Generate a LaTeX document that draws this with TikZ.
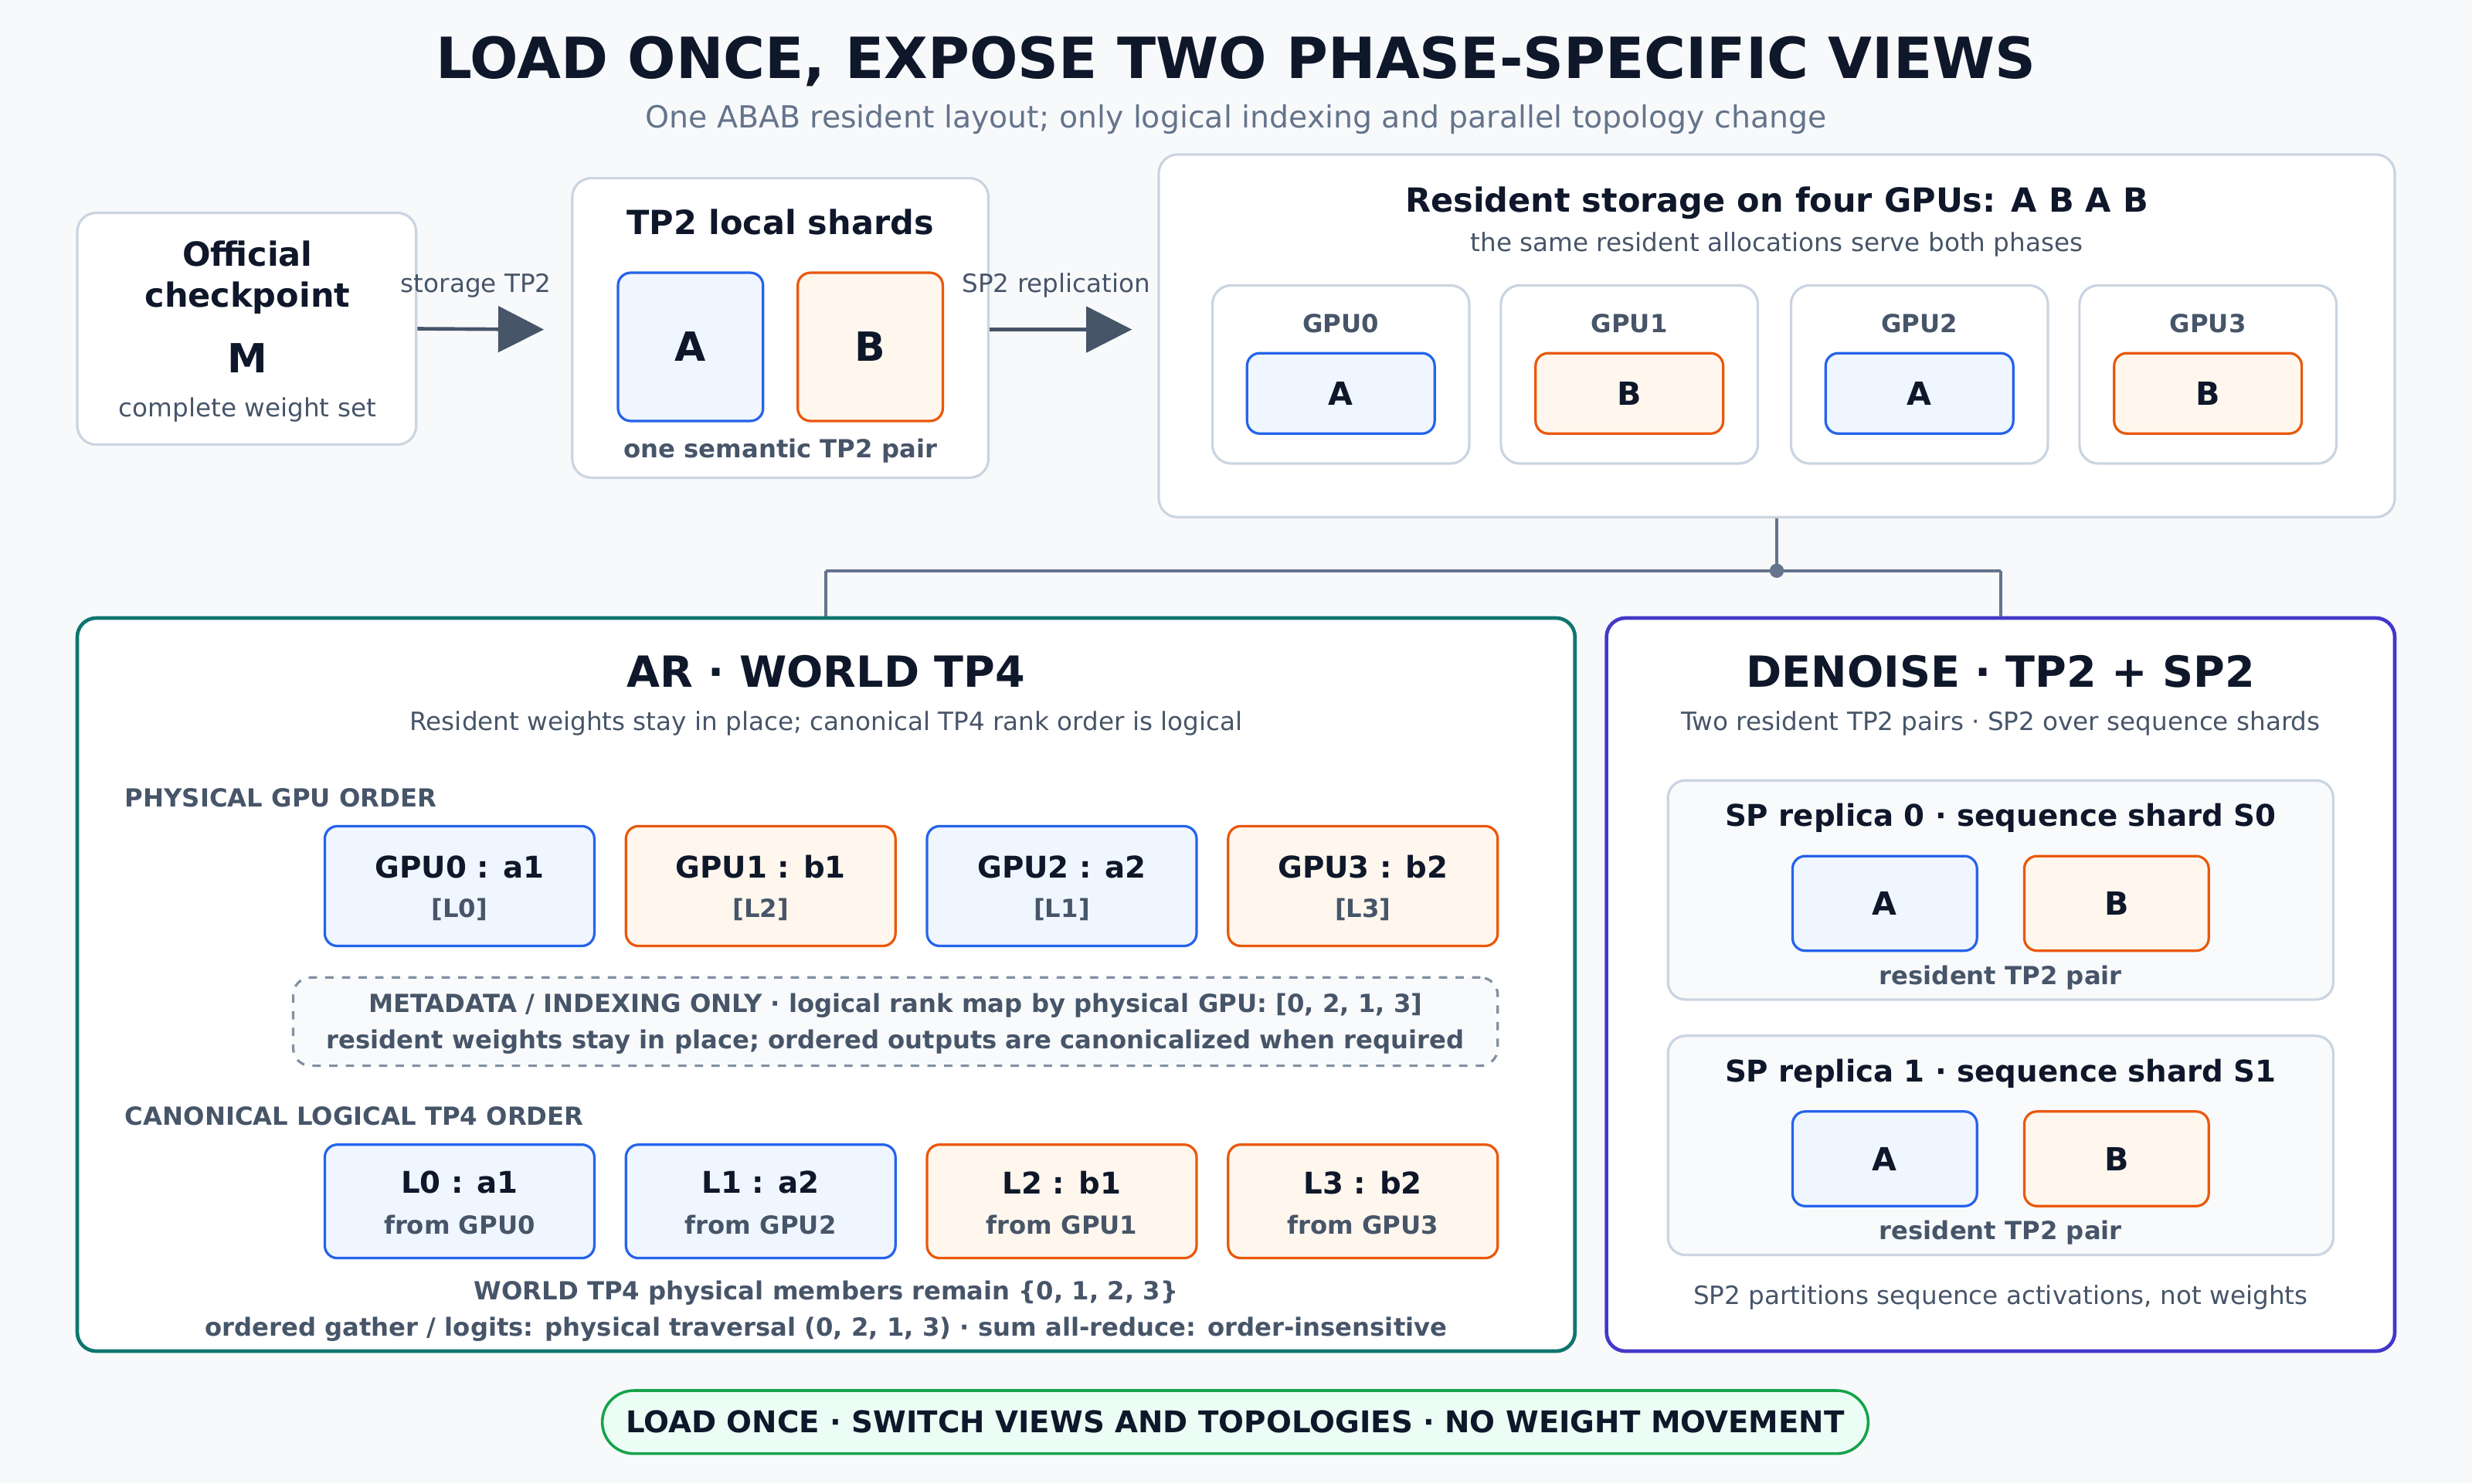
\documentclass[tikz,border=0pt]{standalone}
\usepackage{fontspec}
\setmainfont{DejaVu Sans}
\usetikzlibrary{fit,arrows.meta}
\definecolor{bg}{HTML}{F8F9FB}
\definecolor{ink}{HTML}{0F172A}
\definecolor{mute}{HTML}{475569}
\definecolor{soft}{HTML}{64748B}
\definecolor{line}{HTML}{CBD5E1}
\definecolor{bfill}{HTML}{EFF6FF}
\definecolor{bdraw}{HTML}{2563EB}
\definecolor{ofill}{HTML}{FFF7ED}
\definecolor{odraw}{HTML}{EA580C}
\definecolor{teal}{HTML}{0F766E}
\definecolor{indig}{HTML}{4338CA}
\definecolor{gfill}{HTML}{ECFDF5}
\definecolor{gdraw}{HTML}{16A34A}
\definecolor{panel}{HTML}{F8FAFC}
\begin{document}
\begin{tikzpicture}[x=0.02cm,y=-0.02cm,
  card/.style={draw=line,fill=white,line width=0.9pt,rounded corners=0.24cm,inner sep=0},
  sub/.style={draw=line,fill=panel,line width=0.9pt,rounded corners=0.22cm,inner sep=0},
  bA/.style={draw=bdraw,fill=bfill,line width=0.9pt,rounded corners=0.16cm,inner sep=0},
  bB/.style={draw=odraw,fill=ofill,line width=0.9pt,rounded corners=0.16cm,inner sep=0},
  t/.style={font=\fontsize{9.5}{11}\selectfont\bfseries,text=ink,inner sep=0},
  s/.style={font=\fontsize{9.1}{10}\selectfont,text=mute,inner sep=0},
  sb/.style={font=\fontsize{9}{10}\selectfont\bfseries,text=mute,inner sep=0},
  big/.style={font=\fontsize{12}{14}\selectfont\bfseries,text=ink,inner sep=0},
  head/.style={font=\fontsize{15.5}{18}\selectfont\bfseries,text=ink,inner sep=0},
  arr/.style={draw=mute,line width=1.3pt,-{Triangle[length=0.58cm,width=0.58cm]}},
  conn/.style={draw=soft,line width=1.1pt}]
\fill[bg] (0,0) rectangle (1568,941);
\node[font=\fontsize{20.5}{23}\selectfont\bfseries,text=ink] (title) at (784,39) {LOAD ONCE, EXPOSE TWO PHASE-SPECIFIC VIEWS};
\node[font=\fontsize{11}{12}\selectfont,text=soft] (subt) at (784,76) {One ABAB resident layout; only logical indexing and parallel topology change};
% checkpoint
\node[card,fit={(49,135)(264,282)}] (ckpt) {};
\node[t,align=center,font=\fontsize{12}{15}\selectfont\bfseries] at (157,176) {Official\\checkpoint};
\node[big,font=\fontsize{14.5}{16}\selectfont\bfseries] at (157,227) {M};
\node[s] at (157,260) {complete weight set};
% TP2 local
\node[card,fit={(363,113)(627,303)}] (tp2) {};
\node[t,font=\fontsize{12}{14}\selectfont\bfseries] at (495,141) {TP2 local shards};
\node[bA,fit={(392,173)(484,267)}] (la) {};
\node[big,font=\fontsize{14.5}{16}\selectfont\bfseries] at (la) {A};
\node[bB,fit={(506,173)(598,267)}] (lb) {};
\node[big,font=\fontsize{14.5}{16}\selectfont\bfseries] at (lb) {B};
\node[sb] at (495,286) {one semantic TP2 pair};
% resident
\node[card,fit={(735,98)(1519,328)}] (res) {};
\node[t,font=\fontsize{12}{14}\selectfont\bfseries] at (1127,129) {Resident storage on four GPUs: A B A B};
\node[s] at (1127,155) {the same resident allocations serve both phases};
\foreach \i/\xa/\l/\st in {0/769/A/bA,1/952/B/bB,2/1136/A/bA,3/1319/B/bB}{
  \node[card,fit={(\xa,181)(\xa+163,294)}] (g\i) {};
  \node[sb] at (\xa+81.5,205) {GPU\i};
  \node[\st,fit={(\xa+22,224)(\xa+141,275)}] (gi\i) {};
  \node[t,font=\fontsize{11.5}{13}\selectfont\bfseries] at (gi\i) {\l};
}
% arrows
\draw[arr] (ckpt.east) -- (345,209) coordinate (e1);
\node[s] at (302,181) {storage TP2};
\draw[arr] (tp2.east |- 0,209) -- (718,209);
\node[s] at (670,181) {SP2 replication};
% connectors
\coordinate (j) at (1127,362);
\coordinate (jl) at (524,362);
\coordinate (jr) at (1269,362);
\node[card,draw=teal,line width=1.3pt,fit={(49,392)(999,857)}] (ar) {};
\node[card,draw=indig,line width=1.3pt,fit={(1019,392)(1519,857)}] (dn) {};
\draw[conn] (res.south -| j) -- (j);
\draw[conn] (jl) -- (jr);
\draw[conn] (jl) -- (ar.north -| jl);
\draw[conn] (jr) -- (dn.north -| jr);
\fill[soft] (j) circle (4.5);
% AR panel
\node[head] at (524,426) {AR · WORLD TP4};
\node[s] at (524,459) {Resident weights stay in place; canonical TP4 rank order is logical};
\node[sb,anchor=west] at (79,506) {PHYSICAL GPU ORDER};
\foreach \xa/\a/\b/\st [count=\k] in {206/GPU0 : a1/[L0]/bA,397/GPU1 : b1/[L2]/bB,588/GPU2 : a2/[L1]/bA,779/GPU3 : b2/[L3]/bB}{
  \node[\st,fit={(\xa,524)(\xa+171,600)}] (p\k) {};
  \node[t,font=\fontsize{10.8}{12}\selectfont\bfseries] at (\xa+85.5,550) {\a};
  \node[sb] at (\xa+85.5,577) {\b};
}
\node[sub,dashed,draw=soft!80,fit={(186,620)(950,676)}] (meta) {};
\node[sb] at (568,638) {METADATA / INDEXING ONLY · logical rank map by physical GPU: [0, 2, 1, 3]};
\node[sb] at (568,661) {resident weights stay in place; ordered outputs are canonicalized when required};
\node[sb,anchor=west] at (79,708) {CANONICAL LOGICAL TP4 ORDER};
\foreach \xa/\a/\b/\st [count=\k] in {206/L0 : a1/from GPU0/bA,397/L1 : a2/from GPU2/bA,588/L2 : b1/from GPU1/bB,779/L3 : b2/from GPU3/bB}{
  \node[\st,fit={(\xa,726)(\xa+171,798)}] (c\k) {};
  \node[t,font=\fontsize{10.8}{12}\selectfont\bfseries] at (\xa+85.5,750) {\a};
  \node[sb] at (\xa+85.5,777) {\b};
}
\node[sb] at (524,820) {WORLD TP4 physical members remain \{0, 1, 2, 3\}};
\node[sb] at (524,843) {ordered gather / logits: physical traversal (0, 2, 1, 3) · sum all-reduce: order-insensitive};
% Denoise panel
\node[head] at (1269,426) {DENOISE · TP2 + SP2};
\node[s] at (1269,459) {Two resident TP2 pairs · SP2 over sequence shards};
\foreach \r/\ya in {0/495,1/657}{
  \node[sub,fit={(1058,\ya)(1480,\ya+139)}] (sp\r) {};
  \node[t,font=\fontsize{10.8}{12}\selectfont\bfseries] at (1269,\ya+24) {SP replica \r\ · sequence shard S\r};
  \node[bA,fit={(1137,\ya+48)(1254,\ya+108)}] (spa\r) {};
  \node[t,font=\fontsize{11.5}{13}\selectfont\bfseries] at (spa\r) {A};
  \node[bB,fit={(1284,\ya+48)(1401,\ya+108)}] (spb\r) {};
  \node[t,font=\fontsize{11.5}{13}\selectfont\bfseries] at (spb\r) {B};
  \node[sb] at (1269,\ya+125) {resident TP2 pair};
}
\node[s] at (1269,823) {SP2 partitions sequence activations, not weights};
% banner
\node[draw=gdraw,fill=gfill,line width=1pt,rounded corners=0.4cm,inner sep=0,fit={(382,882)(1185,922)}] (ban) {};
\node[t,font=\fontsize{10.8}{12}\selectfont\bfseries] at (ban) {LOAD ONCE · SWITCH VIEWS AND TOPOLOGIES · NO WEIGHT MOVEMENT};
\end{tikzpicture}
\end{document}
